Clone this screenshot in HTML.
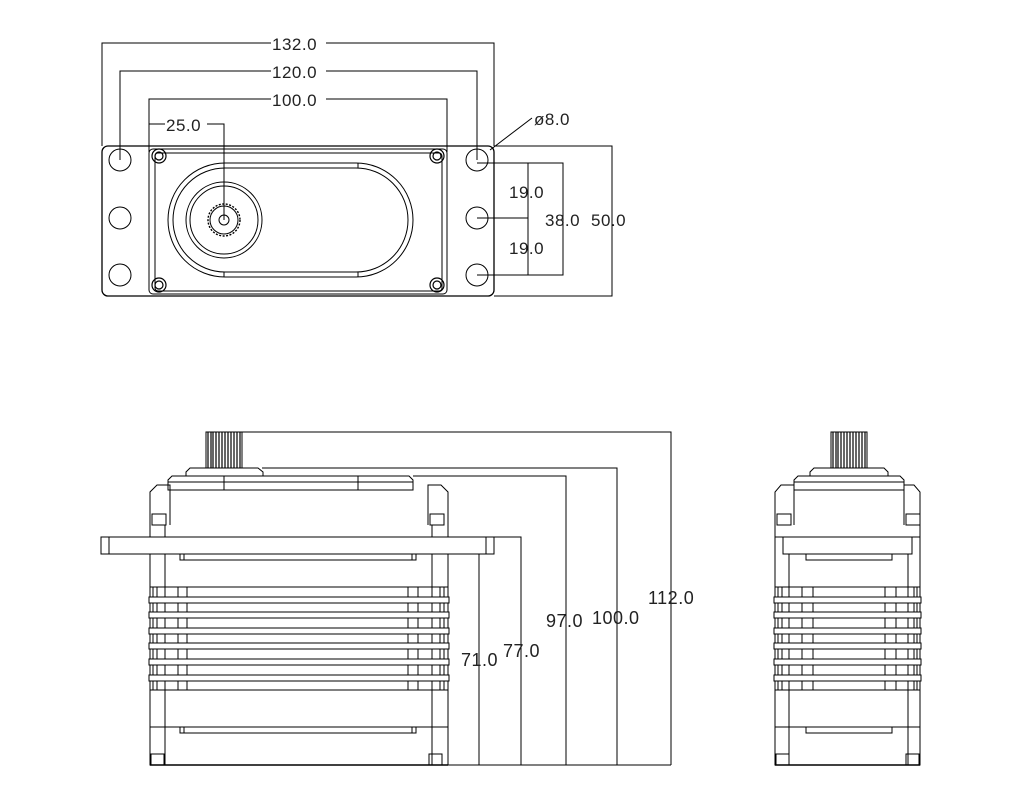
<!DOCTYPE html>
<html><head><meta charset="utf-8"><style>
html,body{margin:0;padding:0;background:#fff;}
svg{display:block;}
text{font-family:"Liberation Sans",sans-serif;font-size:18px;fill:#222;letter-spacing:0.5px;}
</style></head><body>
<svg width="1022" height="800" viewBox="0 0 1022 800" xmlns="http://www.w3.org/2000/svg">
<g fill="none" stroke="#000" stroke-width="1">
<!-- TOP VIEW dims -->
<polyline points="102,146 102,43 494,43 494,146"/>
<polyline points="120,160 120,71 477,71 477,160"/>
<polyline points="149,152 149,99 447,99 447,152"/>
<polyline points="149,152 149,124 224,124 224,220"/>
<line x1="490" y1="150" x2="532" y2="118"/>
<polyline points="477,163 563,163 563,275 477,275"/>
<line x1="528" y1="163" x2="528" y2="275"/>
<line x1="477" y1="218" x2="528" y2="218"/>
<polyline points="494,146 612,146 612,296 494,296"/>
<!-- plate -->
<rect x="102" y="146" width="392" height="150" rx="6" stroke-width="1.3"/>
<rect x="149" y="149" width="298" height="145" rx="4"/>
<rect x="155" y="153" width="287" height="138" rx="3"/>
<circle cx="120" cy="160" r="11"/><circle cx="120" cy="218" r="11"/><circle cx="120" cy="275" r="11"/>
<circle cx="477" cy="160" r="11"/><circle cx="477" cy="218" r="11"/><circle cx="477" cy="275" r="11"/>
<g stroke-width="1.2">
<circle cx="159" cy="156" r="7"/><circle cx="159" cy="156" r="4"/>
<circle cx="437" cy="156" r="7"/><circle cx="437" cy="156" r="4"/>
<circle cx="159" cy="285" r="7"/><circle cx="159" cy="285" r="4"/>
<circle cx="437" cy="285" r="7"/><circle cx="437" cy="285" r="4"/>
</g>
<path d="M225,163 H356 A57,57 0 0 1 356,277 H225 A57,57 0 0 1 225,163 Z"/>
<path d="M225,168 H356 A52,52 0 0 1 356,272 H225 A52,52 0 0 1 225,168 Z"/>
<line x1="224" y1="163" x2="224" y2="168"/><line x1="224" y1="272" x2="224" y2="277"/>
<line x1="358" y1="163" x2="358" y2="168"/><line x1="358" y1="272" x2="358" y2="277"/>
<circle cx="224" cy="220" r="38"/><circle cx="224" cy="220" r="34"/>
<circle cx="224" cy="220" r="16" stroke-dasharray="2 1.5" stroke-width="1.4"/>
<circle cx="224" cy="220" r="14"/>
<circle cx="224" cy="220" r="5"/>

<!-- SIDE VIEW dims -->
<polyline points="242,432 671,432 671,765"/>
<polyline points="262,468 617,468 617,765"/>
<polyline points="413,476 566,476 566,765"/>
<polyline points="494,537 521,537 521,765"/>
<polyline points="448,554 479,554 479,765"/>
<line x1="448" y1="765" x2="671" y2="765"/>
</g>
<g fill="#fff">
<rect x="271" y="36" width="55" height="14"/>
<rect x="271" y="64" width="55" height="14"/>
<rect x="271" y="92" width="55" height="14"/>
<rect x="165" y="117" width="42" height="14"/>
</g>
<text x="272" y="50" style="font-size:17px">132.0</text>
<text x="272" y="78" style="font-size:17px">120.0</text>
<text x="272" y="106" style="font-size:17px">100.0</text>
<text x="166" y="131" style="font-size:17px">25.0</text>
<text x="534" y="125" style="font-size:17px">ø8.0</text>
<text x="509" y="198" style="font-size:17px">19.0</text>
<text x="509" y="254" style="font-size:17px">19.0</text>
<text x="545" y="226" style="font-size:17px">38.0</text>
<text x="591" y="226" style="font-size:17px">50.0</text>
<text x="461" y="666">71.0</text>
<text x="503" y="657">77.0</text>
<text x="546" y="627">97.0</text>
<text x="592" y="624">100.0</text>
<text x="648" y="604">112.0</text>

<!-- side body -->
<g fill="none" stroke="#000" stroke-width="1">
<rect x="206" y="432" width="36" height="36" fill="#fff"/>
<path d="M208,432V468M211,432V468M213,432V468M216,432V468M219,432V468M222,432V468M225,432V468M228,432V468M231,432V468M234,432V468M237,432V468M240,432V468" stroke-width="1.2"/>
<path d="M186,476 V472 L190,468 H258 L263,472 V476"/>
<path d="M168,490 V480 L172,476 H409 L413,480 V490 Z"/>
<line x1="224" y1="476" x2="224" y2="490"/><line x1="358" y1="476" x2="358" y2="490"/>
<line x1="168" y1="482" x2="413" y2="482"/>
<path d="M150,537 V492 L157,485 H170 V525 M448,537 V492 L441,485 H428 V525"/>
<rect x="152" y="514" width="14" height="11"/><rect x="430" y="514" width="14" height="11"/>
<line x1="165" y1="525" x2="165" y2="537"/><line x1="432" y1="525" x2="432" y2="537"/>
<path d="M101,537 H494 V554 H101 Z"/>
<line x1="109" y1="537" x2="109" y2="554"/><line x1="486" y1="537" x2="486" y2="554"/>
<rect x="150" y="554" width="298" height="211"/>
<line x1="165" y1="554" x2="165" y2="765"/><line x1="432" y1="554" x2="432" y2="765"/>
<rect x="180" y="554" width="236" height="6"/><line x1="184" y1="554" x2="184" y2="560"/><line x1="412" y1="554" x2="412" y2="560"/>
<rect x="180" y="727" width="236" height="6"/><line x1="184" y1="727" x2="184" y2="733"/><line x1="412" y1="727" x2="412" y2="733"/>
<line x1="150" y1="587" x2="448" y2="587"/>
<line x1="150" y1="690" x2="448" y2="690"/>
<line x1="150" y1="727" x2="448" y2="727"/>
<path d="M153,587V690M157,587V690M178,587V690M187,587V690M408,587V690M418,587V690M440,587V690M444,587V690"/>
<rect x="149" y="597" width="300" height="6" fill="#fff"/>
<rect x="149" y="612" width="300" height="6" fill="#fff"/>
<rect x="149" y="628" width="300" height="6" fill="#fff"/>
<rect x="149" y="643" width="300" height="6" fill="#fff"/>
<rect x="149" y="659" width="300" height="6" fill="#fff"/>
<rect x="149" y="675" width="300" height="6" fill="#fff"/>
<rect x="151" y="754" width="13" height="11"/><rect x="429" y="754" width="13" height="11"/>
<line x1="150" y1="765" x2="448" y2="765" stroke-width="1.5"/>
</g>

<!-- right view -->
<g fill="none" stroke="#000" stroke-width="1">
<rect x="831" y="432" width="36" height="36"/>
<path d="M833,432V468M836,432V468M838,432V468M841,432V468M844,432V468M847,432V468M850,432V468M853,432V468M856,432V468M859,432V468M862,432V468M865,432V468" stroke-width="1.2"/>
<path d="M810,476 V472 L814,468 H884 L888,472 V476"/>
<path d="M794,490 V480 L798,476 H900 L904,480 V490 Z"/>
<line x1="794" y1="482" x2="904" y2="482"/>
<path d="M775,537 V492 L781,485 H794 V525 M920,537 V492 L914,485 H904 V525"/>
<rect x="777" y="514" width="14" height="11"/><rect x="906" y="514" width="14" height="11"/>
<line x1="775" y1="537" x2="920" y2="537"/>
<rect x="775" y="537" width="145" height="228"/>
<rect x="783" y="537" width="129" height="17"/>
<line x1="789" y1="554" x2="789" y2="765"/><line x1="908" y1="554" x2="908" y2="765"/>
<rect x="806" y="554" width="86" height="6"/>
<rect x="806" y="727" width="86" height="6"/>
<line x1="775" y1="587" x2="920" y2="587"/>
<line x1="775" y1="690" x2="920" y2="690"/>
<line x1="775" y1="727" x2="920" y2="727"/>
<path d="M778,587V690M782,587V690M802,587V690M813,587V690M885,587V690M896,587V690M914,587V690M917,587V690"/>
<rect x="774" y="597" width="147" height="6" fill="#fff"/>
<rect x="774" y="612" width="147" height="6" fill="#fff"/>
<rect x="774" y="628" width="147" height="6" fill="#fff"/>
<rect x="774" y="643" width="147" height="6" fill="#fff"/>
<rect x="774" y="659" width="147" height="6" fill="#fff"/>
<rect x="774" y="675" width="147" height="6" fill="#fff"/>
<rect x="776" y="754" width="13" height="11"/><rect x="906" y="754" width="13" height="11"/>
<line x1="775" y1="765" x2="920" y2="765" stroke-width="1.5"/>
</g>
</svg>
</body></html>
